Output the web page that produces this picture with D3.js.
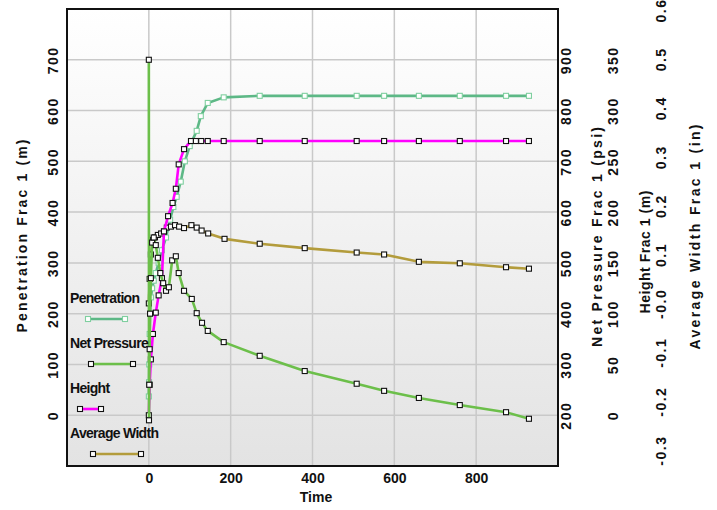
<!DOCTYPE html>
<html lang="en">
<head>
<meta charset="UTF-8">
<title>Frac 1</title>
<script src="https://d3js.org/d3.v7.min.js"></script>
<style>
    body { margin: 0; background: #fff; }
    text { font-family: "Liberation Sans", Arial, sans-serif; fill: #111; }
    .tick-label { font-size: 14px; font-weight: bold; }
    .axis-title { font-size: 14px; font-weight: bold; }
    .legend-label { font-size: 14px; font-weight: bold; }
</style>
</head>
<body>
<svg id="chart" width="717" height="510"></svg>
<script>
// ---- data ----
const penTime   = [0, 0.5, 1, 2, 3, 5, 8, 12, 17, 24, 32, 42, 52, 60, 68, 78, 88, 100, 117, 127, 144, 183, 271, 381, 508, 575, 660, 760, 873, 929];
const penValues = [37, 65, 100, 160, 200, 232, 250, 265, 280, 300, 325, 350, 385, 410, 430, 460, 500, 530, 560, 589, 615, 626, 629, 629, 629, 629, 629, 629, 629, 629];

const npTime   = [0, 0.4, 1, 2, 3, 5, 8, 12, 17, 22, 28, 35, 42, 49, 57, 66, 73, 86, 105, 117, 130, 144, 183, 271, 381, 508, 575, 660, 760, 873, 929];
const npValues = [900, 190, 260, 330, 400, 470, 540, 550, 535, 510, 480, 460, 445, 452, 505, 513, 480, 445, 429, 401, 382, 366, 344, 317, 287, 262, 248, 234, 220, 206, 193];

const htTime   = [0, 2, 5, 10, 17, 24, 32, 37, 47, 58, 66, 73, 86, 103, 115, 128, 144, 183, 271, 381, 508, 575, 660, 760, 873, 929];
const htValues = [0, 30, 55, 80, 101, 118, 135, 181, 196, 209, 223, 247, 262, 270, 270, 270, 270, 270, 270, 270, 270, 270, 270, 270, 270, 270];

const wdTime   = [0, 2, 5, 10, 15, 22, 30, 37, 44, 54, 64, 74, 86, 104, 117, 129, 145, 185, 271, 381, 508, 575, 660, 760, 873, 929];
const wdValues = [0.0, 0.05, 0.10, 0.13, 0.135, 0.14, 0.143, 0.147, 0.155, 0.157, 0.160, 0.157, 0.154, 0.160, 0.155, 0.149, 0.143, 0.132, 0.122, 0.113, 0.104, 0.100, 0.085, 0.082, 0.074, 0.071];

const xTicks   = [0, 200, 400, 600, 800];
const penTicks = [0, 100, 200, 300, 400, 500, 600, 700];
const npTicks  = [200, 300, 400, 500, 600, 700, 800, 900];
const htTicks  = [0, 50, 100, 150, 200, 250, 300, 350];
const wdTicks  = [-0.3, -0.2, -0.1, 0, 0.1, 0.2, 0.3, 0.4, 0.5, 0.6];
const wdTickLabels = ["-0.3", "-0.2", "-0.1", "-0.0", "0.1", "0.2", "0.3", "0.4", "0.5", "0.6"];

const seriesNames = ["Penetration", "Net Pressure", "Height", "Average Width"];

// ---- layout ----
const plot = {left: 67, right: 558, top: 9, bottom: 466};
const svg = d3.select("#chart");

const x = d3.scaleLinear().domain([-200, 1000]).range([plot.left, plot.right]);
const yPen = d3.scaleLinear().domain([-100, 800]).range([plot.bottom, plot.top]);
const yNp = d3.scaleLinear().domain([100, 1000]).range([plot.bottom, plot.top]);
const yHt = d3.scaleLinear().domain([-50, 400]).range([plot.bottom, plot.top]);
const yWd = d3.scaleLinear().domain([-0.3325, 0.602]).range([plot.bottom, plot.top]);

// background gradient
const grad = svg.append("defs").append("linearGradient")
    .attr("id", "bg").attr("x1", 0).attr("y1", 0).attr("x2", 0).attr("y2", 1);
grad.append("stop").attr("offset", "0%").attr("stop-color", "#ffffff");
grad.append("stop").attr("offset", "100%").attr("stop-color", "#e3e3e3");

svg.append("rect")
    .attr("x", plot.left).attr("y", plot.top)
    .attr("width", plot.right - plot.left).attr("height", plot.bottom - plot.top)
    .attr("fill", "url(#bg)");

// grid
const grid = svg.append("g");
grid.selectAll(".hg").data(penTicks).enter().append("line")
    .attr("x1", plot.left).attr("x2", plot.right)
    .attr("y1", d => yPen(d)).attr("y2", d => yPen(d))
    .attr("stroke", "#c9c9c9").attr("stroke-width", 1.5);
grid.selectAll(".vg").data(xTicks).enter().append("line")
    .attr("y1", plot.top).attr("y2", plot.bottom)
    .attr("x1", d => x(d)).attr("x2", d => x(d))
    .attr("stroke", "#c9c9c9").attr("stroke-width", 1.5);

// series
function drawSeries(times, values, yScale, color, markerStroke, markerFill) {
    const pts = times.map((t, i) => [x(t), yScale(values[i])]);
    svg.append("path")
        .attr("d", d3.line()(pts))
        .attr("fill", "none")
        .attr("stroke", color)
        .attr("stroke-width", 2.6)
        .attr("stroke-linejoin", "round");
    svg.append("g").selectAll("rect").data(pts).enter().append("rect")
        .attr("x", d => d[0] - 2.5).attr("y", d => d[1] - 2.5)
        .attr("width", 5).attr("height", 5)
        .attr("fill", markerFill).attr("stroke", markerStroke).attr("stroke-width", 1.1);
}

drawSeries(penTime, penValues, yPen, "#5db886", "#7fcf9f", "#ffffff");
drawSeries(wdTime, wdValues, yWd, "#b39c3c", "#111", "#ffffff");
drawSeries(htTime, htValues, yHt, "#ff00ff", "#111", "#ffffff");
drawSeries(npTime, npValues, yNp, "#6cbf4a", "#111", "#ffffff");

// frame
svg.append("rect")
    .attr("x", plot.left).attr("y", plot.top)
    .attr("width", plot.right - plot.left).attr("height", plot.bottom - plot.top)
    .attr("fill", "none").attr("stroke", "#111").attr("stroke-width", 2);

// x axis
const xAxis = svg.append("g")
    .attr("transform", `translate(0, ${plot.bottom + 7})`)
    .call(d3.axisBottom(x).tickValues(xTicks).tickSize(0).tickFormat(d3.format("d")));
xAxis.select(".domain").remove();
xAxis.selectAll("text").attr("class", "tick-label").attr("fill", "#111").attr("dy", "0.71em").attr("y", 0);

svg.append("text").attr("class", "axis-title")
    .attr("x", 316).attr("y", 502).attr("text-anchor", "middle").text("Time");

// rotated value axes
function rotatedAxis(scale, ticks, labels, cx) {
    const g = svg.append("g").attr("transform", `translate(${cx}, 0)`)
        .call(d3.axisRight(scale).tickValues(ticks).tickSize(0)
            .tickFormat((d, i) => labels ? labels[i] : d));
    g.select(".domain").remove();
    g.selectAll("text")
        .attr("class", "tick-label")
        .attr("fill", "#111")
        .attr("x", 0).attr("y", 0).attr("dy", "0.36em")
        .attr("text-anchor", "middle")
        .attr("letter-spacing", 1.5)
        .attr("transform", "rotate(-90)");
}
rotatedAxis(yPen, penTicks, null, 53);
rotatedAxis(yNp, npTicks, null, 566);
rotatedAxis(yHt, htTicks, null, 613);
rotatedAxis(yWd, wdTicks, wdTickLabels, 661);

// axis titles
function rotatedTitle(label, cx, cy, len) {
    svg.append("text").attr("class", "axis-title")
        .attr("transform", `translate(${cx}, ${cy}) rotate(-90)`)
        .attr("text-anchor", "middle").attr("dy", "0.36em")
        .attr("textLength", len).attr("lengthAdjust", "spacing")
        .text(label);
}
rotatedTitle("Penetration Frac 1 (m)", 22, 236, 193);
rotatedTitle("Net Pressure Frac 1 (psi)", 597, 237, 220);
rotatedTitle("Height Frac 1 (m)", 645, 252, 123);
rotatedTitle("Average Width Frac 1 (in)", 695, 237, 225);

// legend
const legendRows = [
    {name: seriesNames[0], ty: 303, ly: 319, x1: 88, x2: 125, color: "#5db886", ms: "#7fcf9f"},
    {name: seriesNames[1], ty: 348, ly: 364, x1: 91, x2: 133, color: "#6cbf4a", ms: "#111"},
    {name: seriesNames[2], ty: 393, ly: 409, x1: 80, x2: 101, color: "#ff00ff", ms: "#111"},
    {name: seriesNames[3], ty: 438, ly: 454, x1: 93, x2: 141, color: "#b39c3c", ms: "#111"}
];
const legend = svg.append("g");
legendRows.forEach(r => {
    legend.append("text").attr("class", "legend-label")
        .attr("x", 70).attr("y", r.ty).attr("letter-spacing", -0.7).text(r.name);
    legend.append("line")
        .attr("x1", r.x1).attr("x2", r.x2).attr("y1", r.ly).attr("y2", r.ly)
        .attr("stroke", r.color).attr("stroke-width", 2.6);
    [r.x1, r.x2].forEach(px => {
        legend.append("rect")
            .attr("x", px - 2.5).attr("y", r.ly - 2.5).attr("width", 5).attr("height", 5)
            .attr("fill", "#fff").attr("stroke", r.ms).attr("stroke-width", 1.1);
    });
});
</script>
</body>
</html>
